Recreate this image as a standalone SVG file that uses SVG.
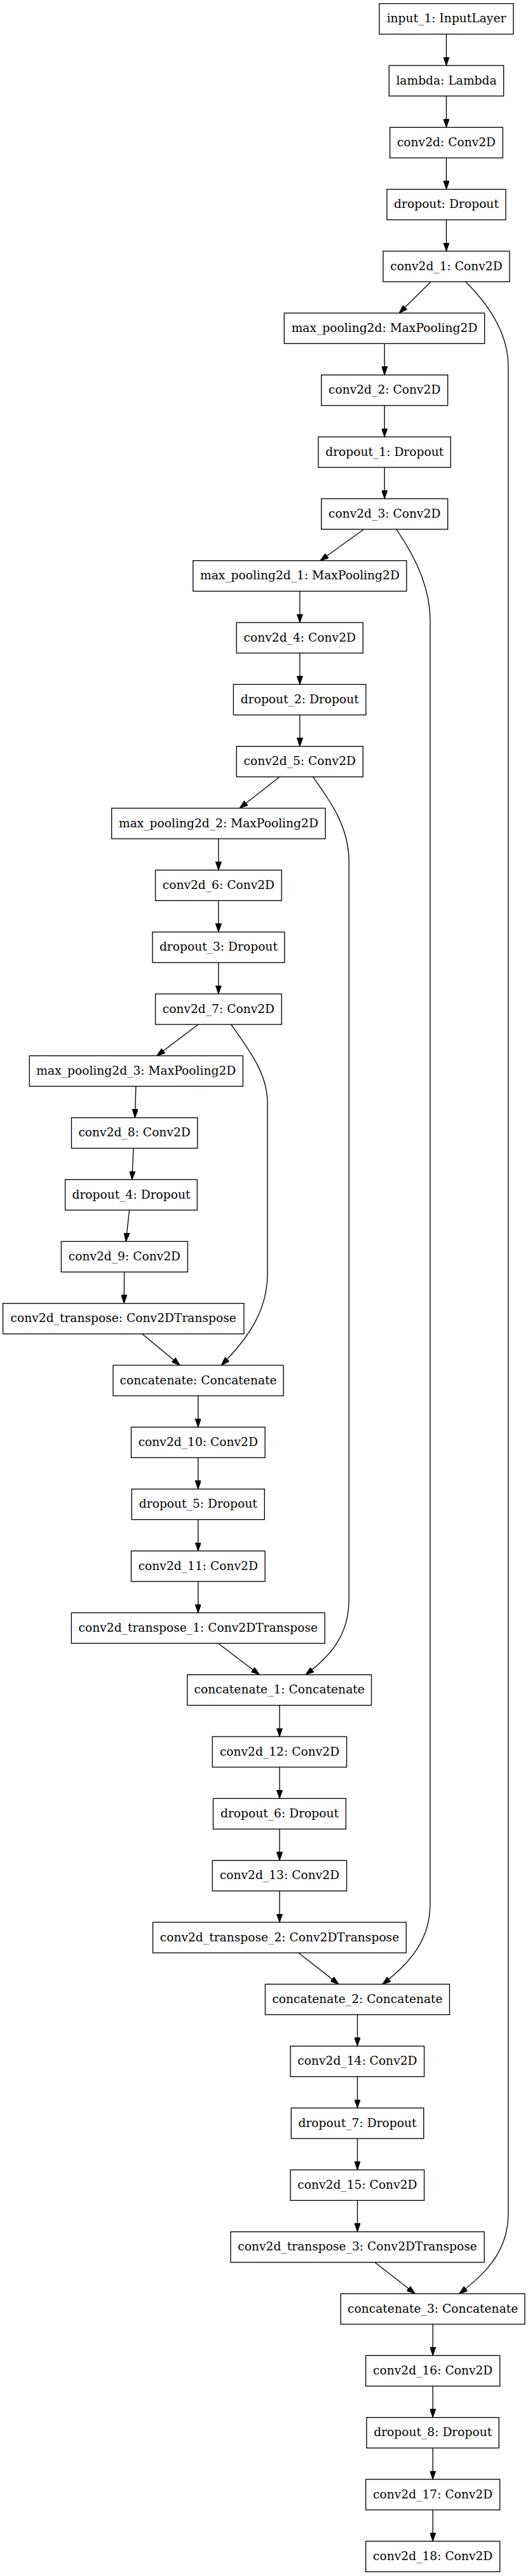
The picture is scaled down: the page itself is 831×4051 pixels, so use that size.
<svg xmlns="http://www.w3.org/2000/svg" width="831" height="4051" viewBox="0 0 831 4051">
<style>
.n rect{fill:#fff;stroke:#000;stroke-width:1.33}
.n text{font-family:"DejaVu Serif","Liberation Serif",serif;font-size:18.67px;text-anchor:middle;fill:#000}
.e path{fill:none;stroke:#000;stroke-width:1.33;marker-end:url(#ah)}
</style>
<defs>
<marker id="ah" markerUnits="userSpaceOnUse" viewBox="0 0 13.33 9.33" markerWidth="13.33" markerHeight="9.33" refX="13.33" refY="4.67" orient="auto">
<path d="M0,0 L13.33,4.67 L0,9.33 z" fill="#000" stroke="#000" stroke-width="1"/>
</marker>
</defs>
<rect width="831" height="4051" fill="#fff"/>
<g id="connectors" class="e">
<path d="M702.5,53.67 L702.5,103"/>
<path d="M702.5,151 L702.5,200.33"/>
<path d="M702.5,248.33 L702.5,297.67"/>
<path d="M702.5,345.67 L702.5,395"/>
<path d="M678.3,443 L628.3,492.33"/>
<path d="M732.7,443 C770,480 800,525 800,577 L800,3480 C800,3540 765,3575 722.7,3607"/>
<path d="M605.2,540.33 L605.2,589.67"/>
<path d="M605.2,637.67 L605.2,687"/>
<path d="M605.2,735 L605.2,784.33"/>
<path d="M572.8,832.33 L504,881.67"/>
<path d="M623.8,832.33 C650,870 677,920 677,975 L677,2995 C677,3050 645,3088 601.8,3120.33"/>
<path d="M471.9,929.67 L471.9,979"/>
<path d="M471.9,1027 L471.9,1076.33"/>
<path d="M471.9,1124.33 L471.9,1173.67"/>
<path d="M440,1221.67 L377,1271"/>
<path d="M492.5,1221.67 C520,1260 549.2,1300 549.2,1355 L549.2,2515 C549.2,2570 522,2603 481,2633.67"/>
<path d="M343.9,1319 L343.9,1368.33"/>
<path d="M343.9,1416.33 L343.9,1465.67"/>
<path d="M343.9,1513.67 L343.9,1563"/>
<path d="M311.9,1611 L246.8,1660.33"/>
<path d="M363.6,1611 C395,1655 421,1690 421,1735 L421,2003 C421,2060 392,2103 348.3,2147"/>
<path d="M213.9,1708.33 L212.4,1757.67"/>
<path d="M210,1805.67 L207.8,1855"/>
<path d="M203.6,1903 L198.2,1952.33"/>
<path d="M195.6,2000.33 L195.2,2049.67"/>
<path d="M223.9,2097.67 L283.2,2147"/>
<path d="M311.8,2195 L311.8,2244.33"/>
<path d="M311.8,2292.33 L311.8,2341.67"/>
<path d="M311.8,2389.67 L311.8,2439"/>
<path d="M311.8,2487 L311.8,2536.33"/>
<path d="M343.3,2584.33 L408.4,2633.67"/>
<path d="M440,2681.67 L440,2731"/>
<path d="M440,2779 L440,2828.33"/>
<path d="M440,2876.33 L440,2925.67"/>
<path d="M440,2973.67 L440,3023"/>
<path d="M469.8,3071 L533,3120.33"/>
<path d="M562.5,3168.33 L562.5,3217.67"/>
<path d="M562.5,3265.67 L562.5,3315"/>
<path d="M562.5,3363 L562.5,3412.33"/>
<path d="M562.5,3460.33 L562.5,3509.67"/>
<path d="M590,3557.67 L653.3,3607"/>
<path d="M681.2,3655 L681.2,3704.33"/>
<path d="M681.2,3752.33 L681.2,3801.67"/>
<path d="M681.2,3849.67 L681.2,3899"/>
<path d="M681.2,3947 L681.2,3996.33"/>
</g>
<g id="input_1" class="n"><rect x="597" y="5.67" width="211" height="48"/><text x="702.5" y="35.2">input_1: InputLayer</text></g>
<g id="lambda" class="n"><rect x="612.3" y="103" width="180.4" height="48"/><text x="702.5" y="132.5">lambda: Lambda</text></g>
<g id="conv2d" class="n"><rect x="613.7" y="200.33" width="177.6" height="48"/><text x="702.5" y="229.8">conv2d: Conv2D</text></g>
<g id="dropout" class="n"><rect x="609" y="297.67" width="187" height="48"/><text x="702.5" y="327.2">dropout: Dropout</text></g>
<g id="conv2d_1" class="n"><rect x="603" y="395" width="199" height="48"/><text x="702.5" y="424.5">conv2d_1: Conv2D</text></g>
<g id="max_pooling2d" class="n"><rect x="447.3" y="492.33" width="315.4" height="48"/><text x="605" y="521.8">max_pooling2d: MaxPooling2D</text></g>
<g id="conv2d_2" class="n"><rect x="505.7" y="589.67" width="199" height="48"/><text x="605.2" y="619.2">conv2d_2: Conv2D</text></g>
<g id="dropout_1" class="n"><rect x="501" y="687" width="208.3" height="48"/><text x="605.2" y="716.5">dropout_1: Dropout</text></g>
<g id="conv2d_3" class="n"><rect x="505.7" y="784.33" width="199" height="48"/><text x="605.2" y="813.8">conv2d_3: Conv2D</text></g>
<g id="max_pooling2d_1" class="n"><rect x="303.8" y="881.67" width="336.1" height="48"/><text x="471.9" y="911.2">max_pooling2d_1: MaxPooling2D</text></g>
<g id="conv2d_4" class="n"><rect x="372.3" y="979" width="199" height="48"/><text x="471.8" y="1008.5">conv2d_4: Conv2D</text></g>
<g id="dropout_2" class="n"><rect x="367.4" y="1076.33" width="208.5" height="48"/><text x="471.8" y="1105.8">dropout_2: Dropout</text></g>
<g id="conv2d_5" class="n"><rect x="372.3" y="1173.67" width="199" height="48"/><text x="471.8" y="1203.2">conv2d_5: Conv2D</text></g>
<g id="max_pooling2d_2" class="n"><rect x="175.7" y="1271" width="336.4" height="48"/><text x="343.9" y="1300.5">max_pooling2d_2: MaxPooling2D</text></g>
<g id="conv2d_6" class="n"><rect x="244.6" y="1368.33" width="198.6" height="48"/><text x="343.9" y="1397.8">conv2d_6: Conv2D</text></g>
<g id="dropout_3" class="n"><rect x="240" y="1465.67" width="207.8" height="48"/><text x="343.9" y="1495.2">dropout_3: Dropout</text></g>
<g id="conv2d_7" class="n"><rect x="244.6" y="1563" width="198.6" height="48"/><text x="343.9" y="1592.5">conv2d_7: Conv2D</text></g>
<g id="max_pooling2d_3" class="n"><rect x="46.3" y="1660.33" width="336" height="48"/><text x="214.3" y="1689.8">max_pooling2d_3: MaxPooling2D</text></g>
<g id="conv2d_8" class="n"><rect x="112.5" y="1757.67" width="198.3" height="48"/><text x="211.6" y="1787.2">conv2d_8: Conv2D</text></g>
<g id="dropout_4" class="n"><rect x="102.6" y="1855" width="207.8" height="48"/><text x="206.5" y="1884.5">dropout_4: Dropout</text></g>
<g id="conv2d_9" class="n"><rect x="96.4" y="1952.33" width="199" height="48"/><text x="195.9" y="1981.8">conv2d_9: Conv2D</text></g>
<g id="conv2d_transpose" class="n"><rect x="4.6" y="2049.67" width="379.3" height="48"/><text x="194.2" y="2079.2">conv2d_transpose: Conv2DTranspose</text></g>
<g id="concatenate" class="n"><rect x="178" y="2147" width="268.2" height="48"/><text x="312.1" y="2176.5">concatenate: Concatenate</text></g>
<g id="conv2d_10" class="n"><rect x="206.5" y="2244.33" width="210.6" height="48"/><text x="311.8" y="2273.8">conv2d_10: Conv2D</text></g>
<g id="dropout_5" class="n"><rect x="207.3" y="2341.67" width="209" height="48"/><text x="311.8" y="2371.2">dropout_5: Dropout</text></g>
<g id="conv2d_11" class="n"><rect x="206.5" y="2439" width="210.6" height="48"/><text x="311.8" y="2468.5">conv2d_11: Conv2D</text></g>
<g id="conv2d_transpose_1" class="n"><rect x="112.4" y="2536.33" width="398.8" height="48"/><text x="311.8" y="2565.8">conv2d_transpose_1: Conv2DTranspose</text></g>
<g id="concatenate_1" class="n"><rect x="294.8" y="2633.67" width="289.8" height="48"/><text x="439.7" y="2663.2">concatenate_1: Concatenate</text></g>
<g id="conv2d_12" class="n"><rect x="334.3" y="2731" width="211.3" height="48"/><text x="440" y="2760.5">conv2d_12: Conv2D</text></g>
<g id="dropout_6" class="n"><rect x="335.5" y="2828.33" width="208.9" height="48"/><text x="440" y="2857.8">dropout_6: Dropout</text></g>
<g id="conv2d_13" class="n"><rect x="334.3" y="2925.67" width="211.3" height="48"/><text x="440" y="2955.2">conv2d_13: Conv2D</text></g>
<g id="conv2d_transpose_2" class="n"><rect x="240.6" y="3023" width="398.7" height="48"/><text x="440" y="3052.5">conv2d_transpose_2: Conv2DTranspose</text></g>
<g id="concatenate_2" class="n"><rect x="417.4" y="3120.33" width="290.1" height="48"/><text x="562.5" y="3149.8">concatenate_2: Concatenate</text></g>
<g id="conv2d_14" class="n"><rect x="457.1" y="3217.67" width="210.5" height="48"/><text x="562.4" y="3247.2">conv2d_14: Conv2D</text></g>
<g id="dropout_7" class="n"><rect x="458.3" y="3315" width="208.5" height="48"/><text x="562.5" y="3344.5">dropout_7: Dropout</text></g>
<g id="conv2d_15" class="n"><rect x="457.1" y="3412.33" width="210.5" height="48"/><text x="562.4" y="3441.8">conv2d_15: Conv2D</text></g>
<g id="conv2d_transpose_3" class="n"><rect x="363" y="3509.67" width="399.2" height="48"/><text x="562.6" y="3539.2">conv2d_transpose_3: Conv2DTranspose</text></g>
<g id="concatenate_3" class="n"><rect x="536.3" y="3607" width="289.7" height="48"/><text x="681.2" y="3636.5">concatenate_3: Concatenate</text></g>
<g id="conv2d_16" class="n"><rect x="575.7" y="3704.33" width="211" height="48"/><text x="681.2" y="3733.8">conv2d_16: Conv2D</text></g>
<g id="dropout_8" class="n"><rect x="577" y="3801.67" width="208.3" height="48"/><text x="681.2" y="3831.2">dropout_8: Dropout</text></g>
<g id="conv2d_17" class="n"><rect x="575.7" y="3899" width="211" height="48"/><text x="681.2" y="3928.5">conv2d_17: Conv2D</text></g>
<g id="conv2d_18" class="n"><rect x="575.7" y="3996.33" width="211" height="48"/><text x="681.2" y="4025.8">conv2d_18: Conv2D</text></g>
</svg>
